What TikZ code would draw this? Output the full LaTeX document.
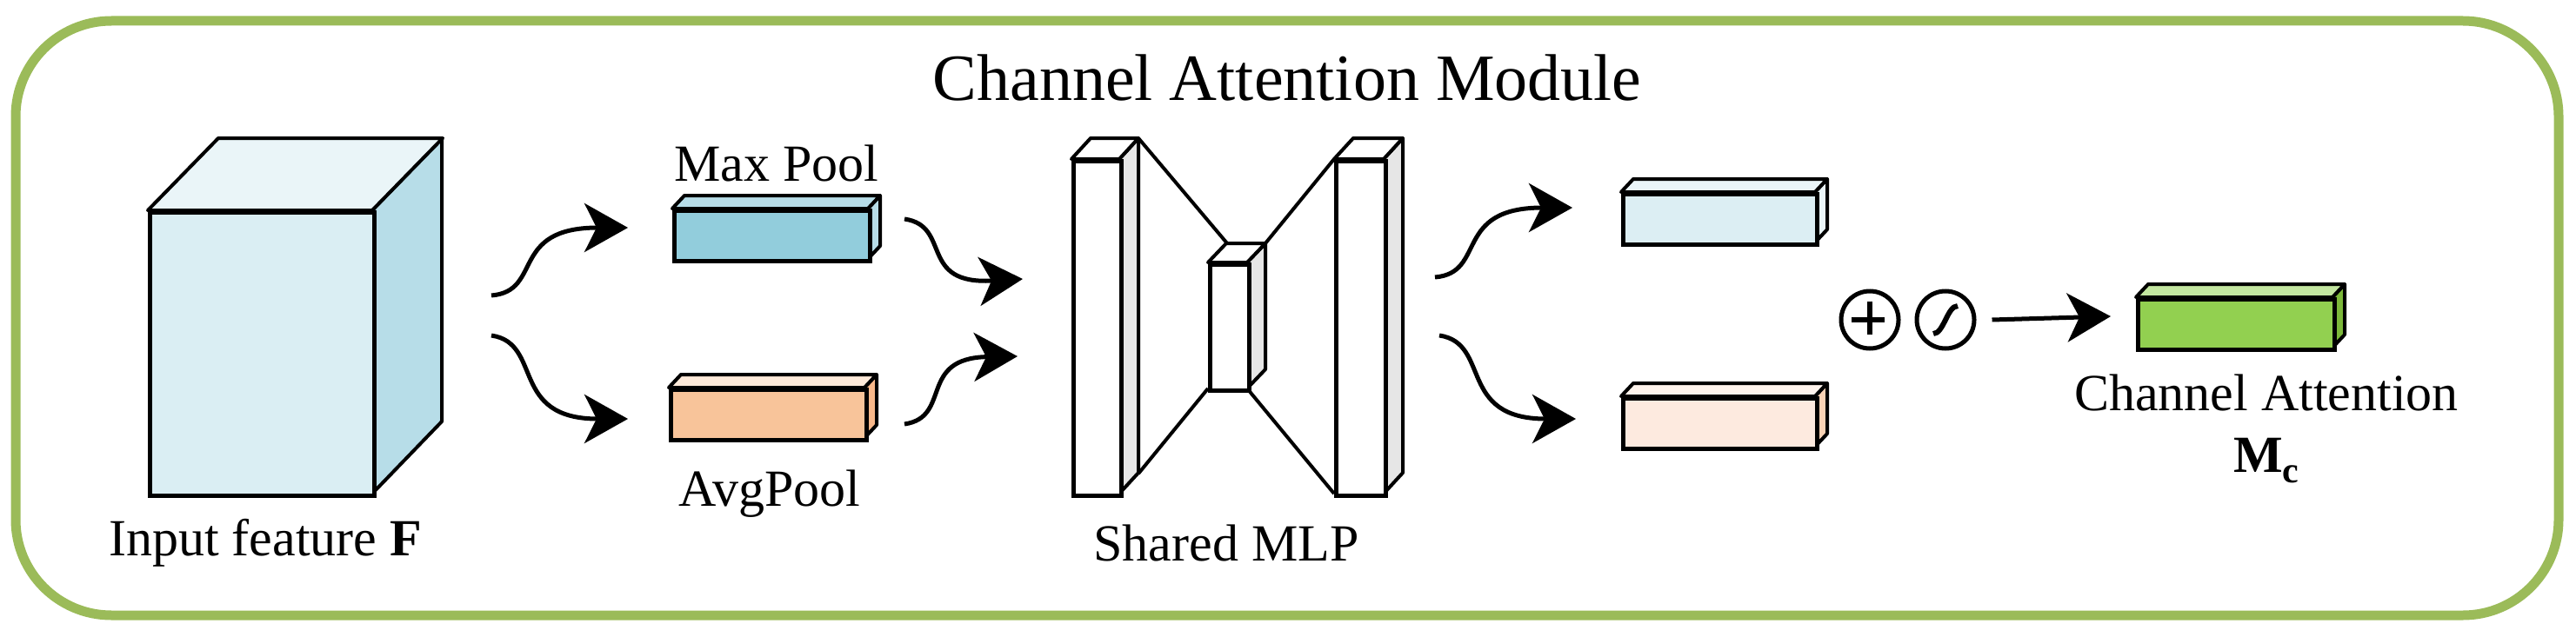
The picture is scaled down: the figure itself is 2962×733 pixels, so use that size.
\documentclass[tikz,border=0pt]{standalone}
\usepackage{fontspec}
\setmainfont{Liberation Serif}
\usetikzlibrary{arrows.meta,calc}
\definecolor{frameg}{HTML}{9BBB59}
\definecolor{cubeF}{HTML}{DAEEF3}\definecolor{cubeT}{HTML}{EAF5F8}\definecolor{cubeS}{HTML}{B7DDE8}
\definecolor{mpF}{HTML}{92CDDC}\definecolor{mpT}{HTML}{B7DDE8}
\definecolor{apF}{HTML}{F8C49A}\definecolor{apT}{HTML}{FDE9D9}\definecolor{apS}{HTML}{F9B88A}
\definecolor{oF}{HTML}{DCEEF3}\definecolor{oT}{HTML}{EAF5F8}
\definecolor{pF}{HTML}{FDEADF}\definecolor{pT}{HTML}{FEF3EC}\definecolor{pS}{HTML}{FAD3B5}
\definecolor{gF}{HTML}{92D050}\definecolor{gT}{HTML}{C3E6A0}\definecolor{gS}{HTML}{7CB83A}
\definecolor{mlpS}{HTML}{E6E6E6}
% \cub{name}{x1}{y1}{x2}{y2}{dx}{dy}{front}{top}{side}
\newcommand\cub[9]{%
  \fill[#8] (#2,#3) rectangle (#4,#5);
  \filldraw[fill=#9,line join=round] (#2,#3) -- ++(#6,-#7) -- ++(#4-#2,0) -- (#4,#3) -- cycle;
  \node[draw,line width=5pt,minimum width=#4pt-#2pt,minimum height=#5pt-#3pt,inner sep=0,anchor=north west] (#1) at (#2,#3) {};
}
\newcommand\side[7]{\filldraw[fill=#7,line join=round] (#1,#2) -- ++(#5,-#6) -- (#3+#5,#4-#6) -- (#3,#4) -- cycle;}
\tikzset{x=1pt,y=-1pt,every path/.style={line width=4pt},
  arr/.style={line width=5pt,-{Stealth[length=50pt,width=56pt,inset=14pt]}},
  lbl/.style={font=\fontsize{60}{66}\selectfont,inner sep=0}}
\begin{document}
\begin{tikzpicture}
\useasboundingbox (0,0) rectangle (2962,733);
\draw[frameg,line width=11pt,rounded corners=110pt] (18,24) rectangle (2942,708);
\node[font=\fontsize{76}{80}\selectfont,inner sep=0] (title) at (1480,90) {Channel Attention Module};
% input cube
\side{428}{242}{428}{568}{80}{83}{cubeS}
\cub{F}{170}{242}{428}{568}{81}{83}{cubeF}{cubeT}{cubeS}
\node[lbl] (Fl) at (305,625) {Input feature \textbf{F}};
% pools
\side{998}{240}{998}{298}{14}{15}{mpT}
\cub{MP}{773}{240}{998}{298}{14}{15}{mpF}{mpT}{mpT}
\node[lbl] (MPl) at (893,188) {Max Pool};
\side{994}{446}{994}{504}{14}{15}{apS}
\cub{AP}{769}{446}{994}{504}{14}{15}{apF}{apT}{apS}
\node[lbl] (APl) at (885,568) {AvgPool};
% MLP
\draw[line width=4pt] (1309,159) -- (1411,280) (1309,545) -- (1389,447)
  (1455,280) -- (1534,183) (1434,447) -- (1534,568);
\side{1287}{183}{1287}{568}{22}{24}{mlpS}
\cub{L1}{1232}{183}{1287}{568}{22}{24}{white}{white}{mlpS}
\side{1434}{302}{1434}{447}{21}{22}{mlpS}
\cub{L2}{1389}{302}{1434}{447}{21}{22}{white}{white}{mlpS}
\side{1591}{183}{1591}{568}{22}{24}{mlpS}
\cub{L3}{1534}{183}{1591}{568}{22}{24}{white}{white}{mlpS}
\node[lbl] (MLPl) at (1410,625) {Shared MLP};
% outputs
\side{2087}{221}{2087}{279}{14}{15}{oT}
\cub{O1}{1864}{221}{2087}{279}{14}{15}{oF}{oT}{oT}
\side{2087}{456}{2087}{514}{14}{15}{pS}
\cub{O2}{1864}{456}{2087}{514}{14}{15}{pF}{pT}{pS}
\side{2682}{342}{2682}{400}{14}{15}{gS}
\cub{G}{2456}{342}{2682}{400}{14}{15}{gF}{gT}{gS}
\node[lbl] (Gl) at (2606,452) {Channel Attention};
\node[lbl] (Mc) at (2606,530) {$\mathbf{M}_{\mathbf{c}}$};
% operators
\node[draw,circle,line width=5pt,minimum size=66pt,inner sep=0] (plus) at (2150,368) {};
\draw[line width=6pt] (plus.north) ++(0,14) -- ++(0,38) (plus.west) ++(14,0) -- ++(38,0);
\node[draw,circle,line width=5pt,minimum size=66pt,inner sep=0] (sig) at (2237,368) {};
\draw[line width=6pt] ($(sig)+(-14,16)$) .. controls ($(sig)+(-2,16)$) and ($(sig)+(2,-16)$) .. ($(sig)+(14,-16)$);
% arrows
\coordinate (a1) at (565,340); \coordinate (a2) at (565,386);
\coordinate (b1) at (1040,252); \coordinate (b2) at (1040,488);
\coordinate (c1) at (1650,319); \coordinate (c2) at (1655,386);
\draw[arr] (a1) .. controls (625,335) and (585,262) .. (722,262);
\draw[arr] (a2) .. controls (625,395) and (585,482) .. (722,482);
\draw[arr] (b1) .. controls (1095,260) and (1055,328) .. (1176,321);
\draw[arr] (b2) .. controls (1095,480) and (1055,412) .. (1170,410);
\draw[arr] (c1) .. controls (1710,314) and (1670,239) .. (1808,239);
\draw[arr] (c2) .. controls (1715,395) and (1675,482) .. (1812,482);
\draw[arr] (sig.east) ++(18,0) -- (2427,364);
\end{tikzpicture}
\end{document}
